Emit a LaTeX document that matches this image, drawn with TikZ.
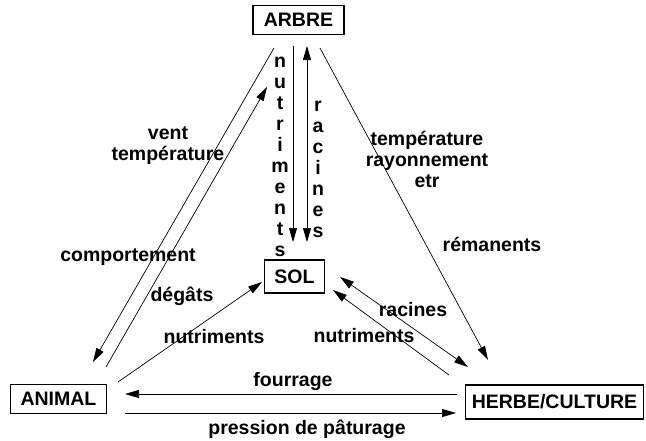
\documentclass[tikz,border=0pt]{standalone}
\usepackage{fontspec}
\setmainfont{Liberation Sans}
\usetikzlibrary{arrows.meta,positioning}

\begin{document}
\begin{tikzpicture}[x=1pt,y=-1pt,font=\bfseries\fontsize{19.5}{21}\selectfont]
  
  \tikzset{main node/.style={rectangle, draw, line width=1.3pt,
  		text centered, minimum height=29pt, inner xsep=10pt}, }
  \tikzset{side text/.style={align=center, inner sep=0pt}, }
  \tikzset{linea/.style={line width=0.7pt, -{Triangle[length=14pt,width=8pt]}}, }
  \tikzset{lineb/.style={line width=0.7pt, {Triangle[length=14pt,width=8pt]}-{Triangle[length=14pt,width=8pt]}}, }
\useasboundingbox (0,0) rectangle (646,440);
\node[main node, minimum width=91pt] (1) at (298.5,20)  {ARBRE};
\node[main node, minimum height=33pt] (2) at (294.5,276.5)  {SOL};
\node[main node] (3) at (58.5,399)  {ANIMAL};
\node[main node, minimum height=34pt, inner xsep=6pt] (4) at (554.5,402)  {HERBE/CULTURE};

\node[side text] (5) at (168,146)  {vent\\température};
\node[side text] (6) at (427,159)  {température\\rayonnement\\etr};
\node[side text] (7) at (128,257)  {comportement};
\node[side text] (8) at (182,296)  {dégâts};
\node[side text] (9) at (214,337)  {nutriments};
\node[side text] (10) at (364,336)  {nutriments};
\node[side text] (11) at (413,310)  {racines};
\node[side text] (12) at (492,244)  {rémanents};
\node[side text] (13) at (293,381)  {fourrage};
\node[side text] (14) at (307,429)  {pression de pâturage};
\node[side text] (15) at (280,156.5)  {n\\u\\t\\r\\i\\m\\e\\n\\t\\s};
\node[side text] (16) at (318,169)  {r\\a\\c\\i\\n\\e\\s};

\foreach \a/\ax/\ay/\b/\bx/\by in {1/-24.5/28/3/34.5/-37, 3/47.5/-32/1/-31.5/67,
    1/-5.5/26/2/-1.5/-34.5, 1/21.5/28/4/-66.5/-42, 3/59.5/-17/2/-32.5/5.5,
    4/-105.5/-27/2/38.5/13.5, 4/-97.5/-8/3/66.5/-5, 3/66.5/14/4/-98.5/11}
  \path[linea] ([shift={(\ax,\ay)}]\a.center) edge ([shift={(\bx,\by)}]\b.center);
\draw[lineb] ([shift={(8.5,26)}]1.center) -- ([shift={(12.5,-34.5)}]2.center);
\draw[lineb] ([shift={(45.5,0.5)}]2.center) -- ([shift={(-86.5,-35)}]4.center);
%%  
\end{tikzpicture}
\end{document}
